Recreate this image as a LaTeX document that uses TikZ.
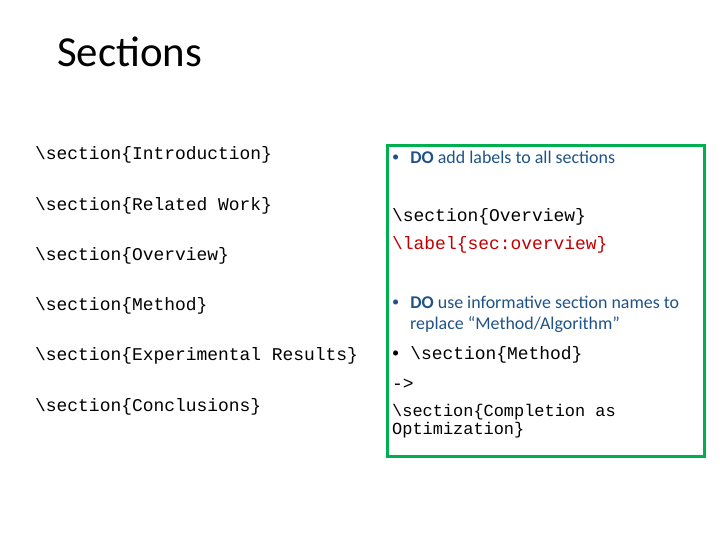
\documentclass[tikz,border=0pt]{standalone}
\usepackage{fontspec}
\setmainfont{Carlito}
\setmonofont{Liberation Mono}
\newcommand{\slbullet}{\raisebox{0.12em}{\scalebox{0.8}{\textbullet}}\hspace{11bp}}
\begin{document}
\begin{tikzpicture}[x=1bp,y=-1bp]
% ------------------------------------------------ slide colours
\definecolor{sl_green}{RGB}{0,176,80}
\definecolor{sl_blue}{RGB}{31,83,135}
\definecolor{sl_red}{RGB}{192,0,0}
\tikzset{code/.style={anchor=west,inner sep=0,font=\fontsize{18}{20}\ttfamily},
         say/.style={anchor=west,inner sep=0,align=left,text=sl_blue,font=\fontsize{18}{21}\selectfont}}
\useasboundingbox (0,0) rectangle (720,540);
\node[anchor=west,inner sep=0,font=\fontsize{43}{46}\selectfont] (title) at (57,52) {Sections};

% left column
\node[code] (intro) at (35,155) {\textbackslash section\{Introduction\}};
\node[code] (rel)   at (35,206) {\textbackslash section\{Related Work\}};
\node[code] (over)  at (35,256) {\textbackslash section\{Overview\}};
\node[code] (meth)  at (35,306) {\textbackslash section\{Method\}};
\node[code] (exp)   at (35,356) {\textbackslash section\{Experimental Results\}};
\node[code] (conc)  at (35,407) {\textbackslash section\{Conclusions\}};

% right box
\draw[sl_green,line width=3bp] (387,146) rectangle (704,456);
\node[say] (do1) at (392,157) {\slbullet\textbf{DO} add labels to all sections};
\node[code] (sec) at (392,217) {\textbackslash section\{Overview\}};
\node[code,text=sl_red] (lab) at (392,245) {\textbackslash label\{sec:overview\}};
\node[say,anchor=north west] (do2) at (392,296) {\slbullet\textbf{DO} use informative section names to\\\hspace{18bp}replace “Method/Algorithm”};
\node[say,text=black] (m) at (392,355) {\slbullet\texttt{\textbackslash section\{Method\}}};
\node[code] (arr) at (392,384) {->};
\node[code,anchor=north west,align=left,font=\fontsize{17}{18}\ttfamily] (compl) at (392,404) {\textbackslash section\{Completion as\\Optimization\}};
\end{tikzpicture}
\end{document}
